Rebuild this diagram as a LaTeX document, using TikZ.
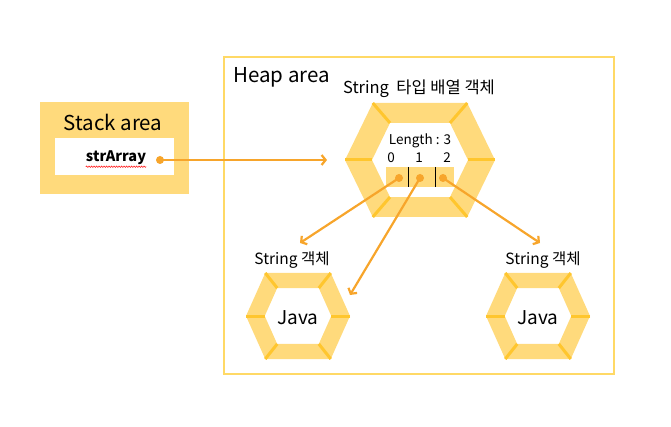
\documentclass[tikz,border=0pt]{standalone}
\usepackage{fontspec}
\setmainfont{Noto Sans CJK KR}
\usetikzlibrary{arrows.meta,decorations.pathmorphing}

\definecolor{hexfill}{HTML}{FFDA7C}
\definecolor{seamc}{HTML}{FFC62E}
\definecolor{heapline}{HTML}{FFD966}
\definecolor{arrowc}{HTML}{F7A52B}

% hexagon frame: centre x, centre y, half width, half height
\newcommand{\hexring}[4]{%
  \begin{scope}[shift={(#1,#2)},xscale=#3,yscale=#4]
    \fill[hexfill,even odd rule] (-1,0) -- (-0.63,-1) -- (0.63,-1) -- (1,0) -- (0.63,1) -- (-0.63,1) -- cycle
      (-0.64,0) -- (-0.4,-0.65) -- (0.4,-0.65) -- (0.64,0) -- (0.4,0.65) -- (-0.4,0.65) -- cycle;
    \foreach \a/\b/\c/\d in {-1/0/-0.64/0, 1/0/0.64/0, -0.63/-1/-0.4/-0.65, 0.63/-1/0.4/-0.65, -0.63/1/-0.4/0.65, 0.63/1/0.4/0.65}
      \draw[seamc,line width=3pt] (\a,\b) -- (\c,\d);
  \end{scope}}

\begin{document}
\begin{tikzpicture}[x=1pt,y=-1pt,
  ptr/.style={draw=arrowc,line width=2.2pt,-{Straight Barb[length=4pt,width=10pt]}},
  dot/.style={circle,fill=arrowc,inner sep=0pt,minimum size=8pt},
  lbl/.style={inner sep=0pt}]
\useasboundingbox (0,0) rectangle (671,427);

% Stack area
\fill[hexfill] (40,102) rectangle (189,194);
\fill[white] (55,138) rectangle (174,175);
\node[lbl,font=\fontsize{20.5}{24}\selectfont] (stack) at (113,122) {Stack area};
\node[lbl,font=\bfseries\fontsize{14.5}{17}\selectfont] (strarr) at (116,158) {strArray};
\draw[red,line width=0.5pt,decorate,decoration={snake,amplitude=0.7pt,segment length=2.5pt}]
  ([yshift=-1.5pt]strarr.south west) -- ([yshift=-1.5pt]strarr.south east);
\node[dot] (ref) at (160,160) {};

% Heap area
\draw[heapline,line width=1.5pt] (224,57) rectangle (614,374);
\node[lbl,anchor=west,font=\fontsize{20.5}{24}\selectfont] (heap) at (233,77) {Heap area};

% array object
\hexring{420}{160}{75}{57}
\node[lbl,font=\fontsize{16.5}{19}\selectfont] (arrtitle) at (419,89) {String\ \ 타입 배열 객체};
\node[lbl,font=\fontsize{13.5}{16}\selectfont] (len) at (420,141) {Length : 3};
\node[lbl,font=\fontsize{13.5}{16}\selectfont] (i0) at (391,158) {0};
\node[lbl,font=\fontsize{13.5}{16}\selectfont] (i1) at (419,158) {1};
\node[lbl,font=\fontsize{13.5}{16}\selectfont] (i2) at (447,158) {2};
\fill[hexfill] (386,167) rectangle (454,187);
\draw[line width=0.8pt] (408,167) -- (408,187);
\draw[line width=0.8pt] (435,167) -- (435,187);
\node[dot] (d0) at (399,178) {};
\node[dot] (d1) at (420,178) {};
\node[dot] (d2) at (443,178) {};

% String objects
\hexring{298}{316}{52}{43}
\hexring{538}{316}{52}{43}
\node[lbl,font=\fontsize{15.5}{18}\selectfont] (obj1) at (292,260) {String 객체};
\node[lbl,font=\fontsize{15.5}{18}\selectfont] (obj2) at (543,260) {String 객체};
\node[lbl,font=\fontsize{19}{22}\selectfont] (java1) at (298,318) {Java};
\node[lbl,font=\fontsize{19}{22}\selectfont] (java2) at (538,318) {Java};

% references
\coordinate (arrin) at (327,160);
\coordinate (e0) at (300,243);
\coordinate (e1) at (350,295);
\coordinate (e2) at (540,243);
\draw[ptr] (ref.center) -- (arrin);
\draw[ptr] (d0.center) -- (e0);
\draw[ptr] (d1.center) -- (e1);
\draw[ptr] (d2.center) -- (e2);
\end{tikzpicture}
\end{document}
